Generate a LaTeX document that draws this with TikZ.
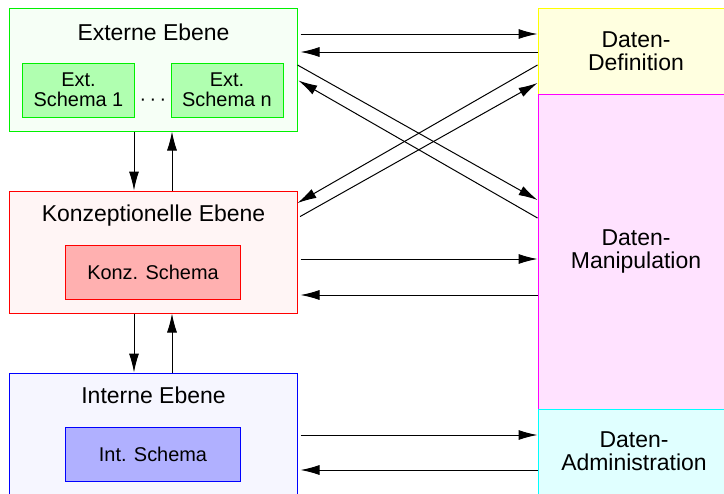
\documentclass[tikz,border=0pt]{standalone}
\usepackage{fontspec}
\setmainfont{Liberation Sans}
\usetikzlibrary{arrows.meta}

\definecolor{extline}{RGB}{0,240,0}
\definecolor{extfill}{RGB}{246,255,246}
\definecolor{extschema}{RGB}{176,255,176}
\definecolor{konzline}{RGB}{255,0,0}
\definecolor{konzfill}{RGB}{255,245,245}
\definecolor{konzschema}{RGB}{255,176,176}
\definecolor{intline}{RGB}{0,0,255}
\definecolor{intfill}{RGB}{246,246,255}
\definecolor{intschema}{RGB}{176,176,255}
\definecolor{defline}{RGB}{255,255,0}
\definecolor{deffill}{RGB}{255,255,224}
\definecolor{manline}{RGB}{255,0,255}
\definecolor{manfill}{RGB}{255,226,255}
\definecolor{admline}{RGB}{0,255,255}
\definecolor{admfill}{RGB}{224,255,255}

\begin{document}
\begin{tikzpicture}[x=0.03cm,y=-0.03cm,line width=0.85pt,
  >={Latex[length=5.7mm,width=3mm]},
  level box/.style={rectangle,draw,inner sep=0pt,line width=0.85pt},
  big text/.style={font=\fontsize{19.6}{19.6}\selectfont,align=center},
  small text/.style={font=\fontsize{17}{17}\selectfont,align=center}]

  \clip (0,0) rectangle (724,493);

  % Ebenen links
  \node[level box,draw=extline,fill=extfill,minimum width=8.61cm,minimum height=3.69cm] (ext) at (153.5,69.5) {};
  \node[level box,draw=konzline,fill=konzfill,minimum width=8.61cm,minimum height=3.66cm] (konz) at (153.5,252) {};
  \node[level box,draw=intline,fill=intfill,minimum width=8.61cm,minimum height=3.81cm] (int) at (153.5,436.5) {};

  \node[big text,anchor=base] (exttitle) at (153.5,40) {Externe Ebene};
  \node[big text,anchor=base] (konztitle) at (153.5,221.5) {Konzeptionelle Ebene};
  \node[big text,anchor=base] (inttitle) at (153.5,403) {Interne Ebene};

  \node[level box,small text,draw=extline,fill=extschema,minimum width=3.33cm,minimum height=1.62cm] (ext1) at (78.5,90) {Ext.\\Schema 1};
  \node[level box,small text,draw=extline,fill=extschema,minimum width=3.36cm,minimum height=1.62cm] (extn) at (227,90) {Ext.\\Schema n};
  \node[small text] (dots) at (153,102) {·\,·\,·};
  \node[level box,small text,draw=konzline,fill=konzschema,minimum width=5.22cm,minimum height=1.62cm] (konzschema) at (153,272) {Konz. Schema};
  \node[level box,small text,draw=intline,fill=intschema,minimum width=5.22cm,minimum height=1.62cm] (intschema) at (153,454) {Int. Schema};

  % Sprachen rechts
  \node[level box,big text,draw=defline,fill=deffill,minimum width=5.88cm,minimum height=2.58cm] (def) at (636,51) {Daten-\\Definition};
  \node[level box,big text,draw=manline,fill=manfill,minimum width=5.88cm,minimum height=9.45cm] (man) at (636,251.5) {Daten-\\Manipulation};
  \node[level box,draw=admline,fill=admfill,minimum width=5.88cm,minimum height=2.73cm] (adm) at (636,454.5) {};
  \node[big text] (admtext) at (634,451) {Daten-\\Administration};

  \path[->]
    (ext.south -| 134,0) edge (konz.north -| 134,0)
    (konz.north -| 172,0) edge (ext.south -| 172,0)
    (konz.south -| 134,0) edge (int.north -| 134,0)
    (int.north -| 172,0) edge (konz.south -| 172,0)
    (ext.east |- 0,34) edge[shorten <=0.09cm] (def.west |- 0,34)
    (def.west |- 0,52) edge[shorten >=0.09cm] (ext.east |- 0,52)
    (ext.east |- 0,65) edge (man.west |- 0,200)
    (man.west |- 0,218) edge[shorten >=0.03cm] (ext.east |- 0,80)
    (def.west |- 0,65) edge (konz.east |- 0,203)
    (konz.east |- 0,218) edge[shorten <=0.09cm] (def.west |- 0,83)
    (konz.east |- 0,259) edge[shorten <=0.09cm] (man.west |- 0,259)
    (man.west |- 0,295) edge[shorten >=0.09cm] (konz.east |- 0,295)
    (int.east |- 0,435) edge[shorten <=0.09cm] (adm.west |- 0,435)
    (adm.west |- 0,470) edge[shorten >=0.09cm] (int.east |- 0,470);
\end{tikzpicture}
\end{document}
